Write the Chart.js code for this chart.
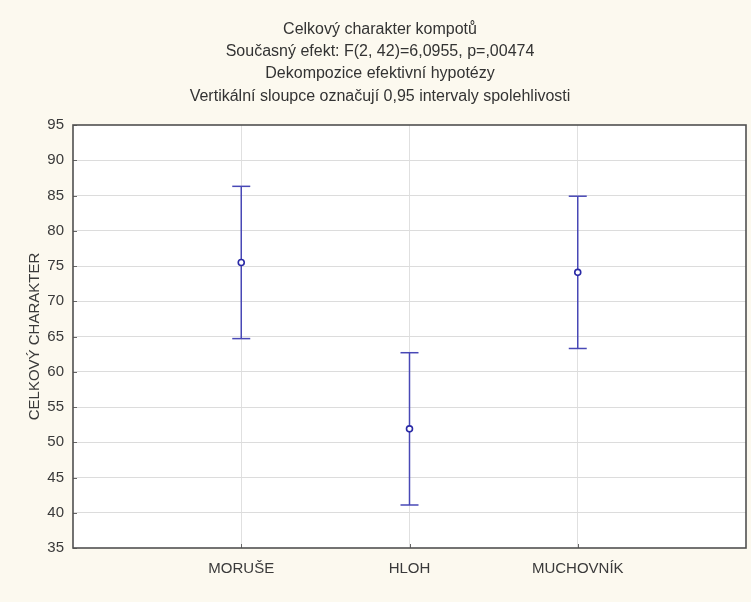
<!DOCTYPE html>
<html>
<head>
<meta charset="utf-8">
<script src="https://cdn.jsdelivr.net/npm/chart.js@4/dist/chart.umd.min.js"></script>
<style>
  html, body { margin: 0; padding: 0; background: #fcf9ef; }
  #wrap { width: 751px; height: 602px; }
</style>
</head>
<body>
<div id="wrap"><canvas id="c" width="751" height="602"></canvas></div>
<script>
// Groups and their means with 0.95 confidence limits
const categories = ['MORUŠE', 'HLOH', 'MUCHOVNÍK'];
const means = [75.5, 51.9, 74.1];
const lower = [64.7, 41.1, 63.3];
const upper = [86.3, 62.7, 84.9];
const yTicks = [35, 40, 45, 50, 55, 60, 65, 70, 75, 80, 85, 90, 95];
const titleLines = [
  'Celkový charakter kompotů',
  'Současný efekt: F(2, 42)=6,0955, p=,00474',
  'Dekompozice efektivní hypotézy',
  'Vertikální sloupce označují 0,95 intervaly spolehlivosti'
];
const yTitle = 'CELKOVÝ CHARAKTER';

const barColor = '#4848b6';
const meanColor = '#2a2aa6';
const fontFamily = '"Liberation Sans", Arial, sans-serif';

// One whisker dataset per group: a vertical segment with horizontal caps
const whiskers = categories.map((c, i) => ({
  type: 'line',
  label: c,
  data: [{ x: i + 1, y: lower[i] }, { x: i + 1, y: upper[i] }],
  borderColor: barColor,
  borderWidth: 1.5,
  pointStyle: 'line',
  pointRadius: 9,
  pointBorderWidth: 1.5,
  pointBorderColor: barColor,
  pointHoverRadius: 9,
  order: 2
}));

const meanSet = {
  type: 'scatter',
  label: 'průměr',
  data: means.map((m, i) => ({ x: i + 1, y: m })),
  pointStyle: 'circle',
  pointRadius: 3,
  pointBorderWidth: 1.6,
  borderColor: meanColor,
  backgroundColor: '#ffffff',
  order: 1
};

// White plot area and dark frame around it
const frame = {
  id: 'frame',
  beforeDraw(chart) {
    const { ctx, chartArea: a } = chart;
    ctx.save();
    ctx.fillStyle = '#ffffff';
    ctx.fillRect(a.left, a.top, a.right - a.left, a.bottom - a.top);
    ctx.restore();
  },
  afterDatasetsDraw(chart) {
    const { ctx, chartArea: a, scales } = chart;
    ctx.save();
    // short inner tick marks
    ctx.strokeStyle = '#666';
    ctx.lineWidth = 1;
    yTicks.forEach(v => {
      const y = Math.round(scales.y.getPixelForValue(v)) + 0.5;
      ctx.beginPath(); ctx.moveTo(a.left, y); ctx.lineTo(a.left + 4, y); ctx.stroke();
    });
    categories.forEach((c, i) => {
      const x = Math.round(scales.x.getPixelForValue(i + 1)) + 0.5;
      ctx.beginPath(); ctx.moveTo(x, a.bottom); ctx.lineTo(x, a.bottom - 4); ctx.stroke();
    });
    ctx.strokeStyle = '#505050';
    ctx.lineWidth = 1.6;
    ctx.strokeRect(a.left, a.top, a.right - a.left, a.bottom - a.top);
    ctx.restore();
  }
};

new Chart(document.getElementById('c'), {
  data: { datasets: [...whiskers, meanSet] },
  options: {
    responsive: false,
    animation: false,
    layout: { autoPadding: false, padding: { left: 14, right: 5, top: 0, bottom: 0 } },
    plugins: {
      legend: { display: false },
      tooltip: { enabled: false },
      title: {
        display: true,
        text: titleLines,
        color: '#333333',
        font: { family: fontFamily, size: 16, weight: 'normal', lineHeight: 1.4 },
        padding: { top: 18, bottom: 17.4 }
      }
    },
    scales: {
      x: {
        type: 'linear',
        min: 0,
        max: 4,
        afterFit(scale) {
          scale.height = 54;
          scale.paddingLeft = 0;
          scale.paddingRight = 0;
        },
        afterBuildTicks(scale) { scale.ticks = [0, 1, 2, 3, 4].map(v => ({ value: v })); },
        ticks: {
          autoSkip: false,
          maxRotation: 0,
          padding: 12,
          color: '#3a3a3a',
          font: { family: fontFamily, size: 15 },
          callback: v => categories[v - 1] || ''
        },
        grid: {
          drawTicks: false,
          color: ctx => (ctx.tick && ctx.tick.value >= 1 && ctx.tick.value <= 3) ? '#e0e0e0' : 'rgba(0,0,0,0)',
          lineWidth: 1
        },
        border: { display: false }
      },
      y: {
        type: 'linear',
        min: 35,
        max: 95,
        afterFit(scale) {
          scale.width = 59;
          scale.paddingTop = 0;
          scale.paddingBottom = 0;
        },
        afterBuildTicks(scale) { scale.ticks = yTicks.map(v => ({ value: v })); },
        ticks: {
          padding: 9,
          color: '#3a3a3a',
          font: { family: fontFamily, size: 15 }
        },
        grid: {
          drawTicks: false,
          color: ctx => (ctx.tick && (ctx.tick.value === 35 || ctx.tick.value === 95)) ? 'rgba(0,0,0,0)' : '#dcdcdc',
          lineWidth: 1
        },
        border: { display: false },
        title: {
          display: true,
          text: yTitle,
          color: '#3a3a3a',
          font: { family: fontFamily, size: 15 },
          padding: { top: 12, bottom: 0 }
        }
      }
    }
  },
  plugins: [frame]
});
</script>
</body>
</html>
